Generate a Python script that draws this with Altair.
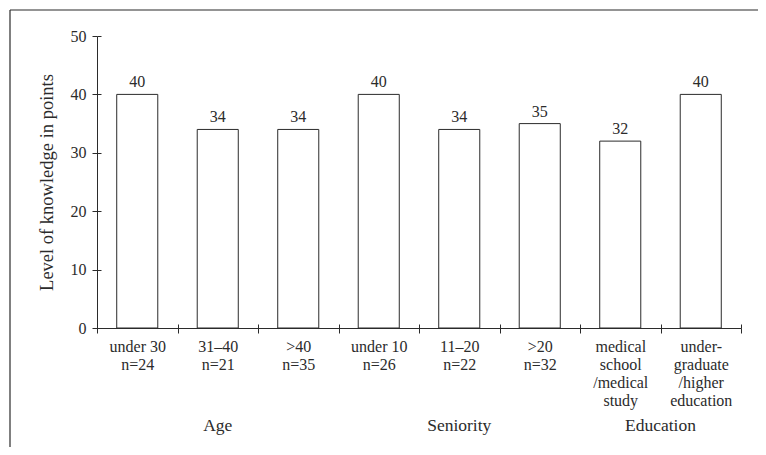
import altair as alt
import pandas as pd

categories = ["under 30|n=24", "31–40|n=21", ">40|n=35", "under 10|n=26",
              "11–20|n=22", ">20|n=32", "medical|school|/medical|study",
              "under-|graduate|/higher|education"]
values = [40, 34, 34, 40, 34, 35, 32, 40]
groups = ["Age", "Seniority", "Education"]
group_anchor = ["31–40|n=21", "11–20|n=22", "medical|school|/medical|study"]
group_edge = [False, False, True]
y_ticks = [0, 10, 20, 30, 40, 50]

FONT = "Liberation Serif"
INK = "#2b2b2b"
W, H = 644, 292

df = pd.DataFrame({"cat": categories, "val": values})
gdf = pd.DataFrame({"cat": group_anchor, "grp": groups, "edge": group_edge})

xscale = alt.Scale(domain=categories, paddingInner=0, paddingOuter=0)
yscale = alt.Scale(domain=[0, 50], nice=False)

bars = alt.Chart(df).mark_bar(
    fill="white", stroke=INK, strokeWidth=1, width=alt.RelativeBandSize(0.51)
).encode(
    x=alt.X("cat:N", scale=xscale, sort=categories, title=None,
            axis=alt.Axis(orient="bottom", tickBand="extent", tickSize=5,
                          labelAngle=0, labelExpr="split(datum.label, '|')",
                          labelLineHeight=18, labelBaseline="top", labelPadding=5,
                          labelFont=FONT, labelFontSize=16, labelColor=INK,
                          domainColor=INK, tickColor=INK, labelLimit=200)),
    y=alt.Y("val:Q", scale=yscale, title="Level of knowledge in points",
            axis=alt.Axis(orient="left", values=y_ticks, tickSize=5, labelPadding=6,
                          labelFont=FONT, labelFontSize=16, labelColor=INK,
                          domainColor=INK, tickColor=INK, grid=False,
                          titleFont=FONT, titleFontSize=18.5, titleFontWeight="normal",
                          titleColor=INK, titlePadding=14)),
)

labels = alt.Chart(df).mark_text(
    baseline="alphabetic", dy=-7, font=FONT, fontSize=16, color=INK
).encode(
    x=alt.X("cat:N", scale=xscale, sort=categories, title=None,
            axis=alt.Axis(orient="top", offset=-H, tickBand="extent", tickSize=4,
                          labels=False, domain=False, tickColor=INK)),
    y=alt.Y("val:Q", scale=yscale, title=None,
            axis=alt.Axis(orient="right", offset=-W, values=y_ticks, tickSize=4,
                          labels=False, domain=False, tickColor=INK, grid=False)),
    text=alt.Text("val:Q"),
)

grp_mid = alt.Chart(gdf).transform_filter("!datum.edge").mark_text(
    baseline="alphabetic", font=FONT, fontSize=17.5, color=INK
).encode(
    x=alt.X("cat:N", scale=xscale, sort=categories, axis=None),
    y=alt.value(395),
    text="grp:N",
)

grp_edge = alt.Chart(gdf).transform_filter("datum.edge").mark_text(
    baseline="alphabetic", font=FONT, fontSize=17.5, color=INK
).encode(
    x=alt.X("cat:N", scale=xscale, sort=categories, axis=None, bandPosition=1),
    y=alt.value(395),
    text="grp:N",
)

frame_df = pd.DataFrame({"k": [0]})
frame_top = alt.Chart(frame_df).mark_rule(color=INK, strokeWidth=1.2).encode(
    x=alt.value(-87), x2=alt.value(W + 30), y=alt.value(-26))
frame_left = alt.Chart(frame_df).mark_rule(color=INK, strokeWidth=1.2).encode(
    x=alt.value(-87), y=alt.value(-26), y2=alt.value(H + 130))

chart = alt.layer(bars, labels, grp_mid, grp_edge, frame_top, frame_left).resolve_axis(
    x="independent", y="independent"
).properties(
    width=W, height=H,
    autosize=alt.AutoSizeParams(type="none"),
    padding={"left": 89, "top": 28, "right": 17, "bottom": 119},
).configure_view(stroke=None)

chart.save("out.html", embed_options={"renderer": "svg", "actions": False})
